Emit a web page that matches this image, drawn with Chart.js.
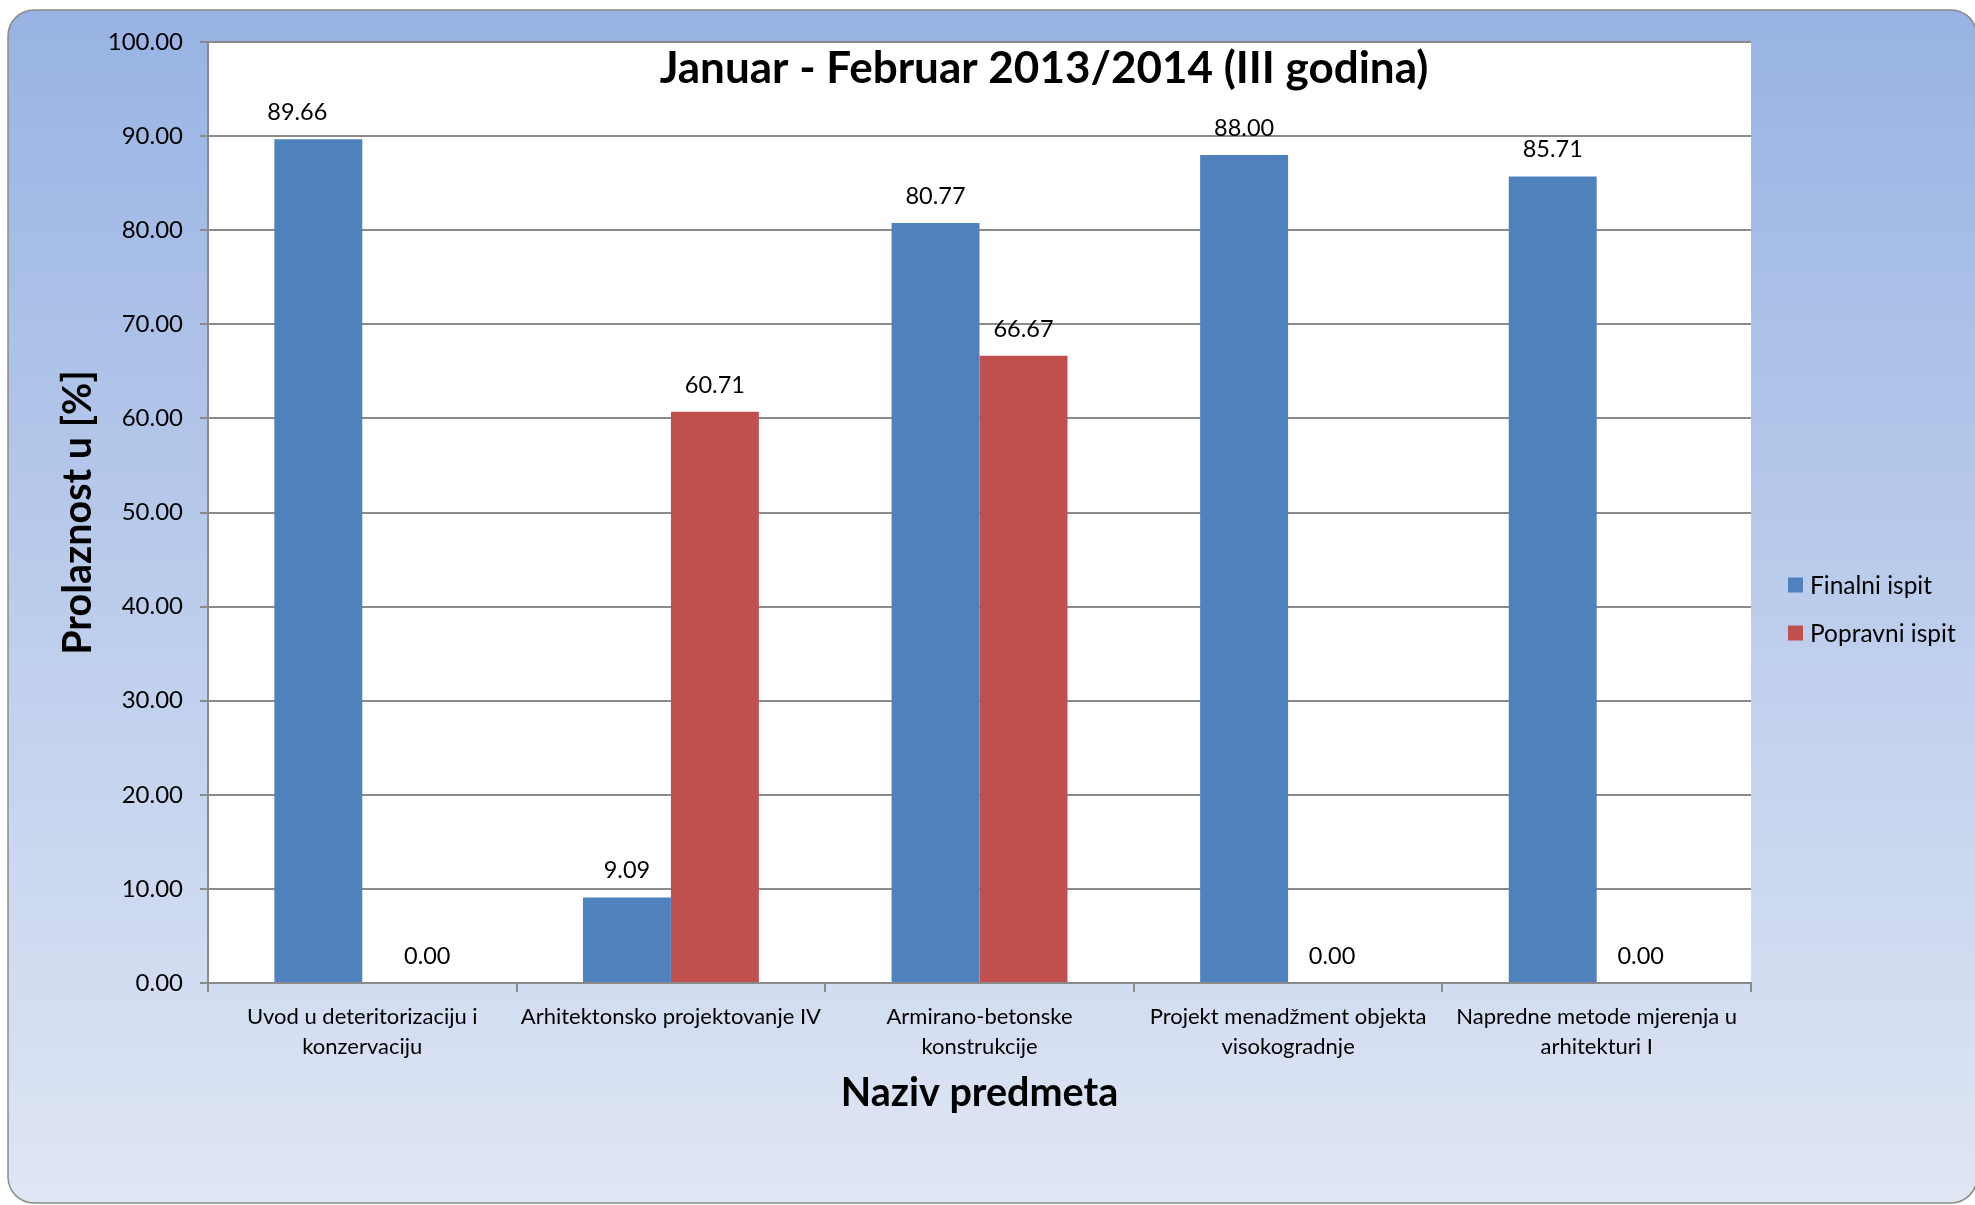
<!DOCTYPE html>
<html>
<head>
<meta charset="utf-8">
<script src="https://cdn.jsdelivr.net/npm/chart.js@4/dist/chart.umd.min.js"></script>
<style>
  html, body { margin: 0; padding: 0; background: #ffffff; }
  #wrap { width: 1975px; height: 1205px; }
</style>
</head>
<body>
<div id="wrap"><canvas id="c" width="1975" height="1205"></canvas></div>
<script>
// ---- data ----
const chartTitle = 'Januar - Februar 2013/2014 (III godina)';
const categories = [
  ['Uvod u deteritorizaciju i', 'konzervaciju'],
  'Arhitektonsko projektovanje IV',
  ['Armirano-betonske', 'konstrukcije'],
  ['Projekt menadžment objekta', 'visokogradnje'],
  ['Napredne metode mjerenja u', 'arhitekturi I']
];
const seriesNames = ['Finalni ispit', 'Popravni ispit'];
const finalniIspit = [89.66, 9.09, 80.77, 88.00, 85.71];
const popravniIspit = [0.00, 60.71, 66.67, 0.00, 0.00];
const yTitle = 'Prolaznost u [%]';
const xTitle = 'Naziv predmeta';

// ---- styles ----
const FONT = 'Lato, "Open Sans", sans-serif';
const BLUE = '#4F81BD';
const RED = '#C0504D';
const GRID = '#8a8a8a';
const labelShift = [[-21, 0, 0, 0, 0], [21, 0, 0, 0, 0]];

Chart.defaults.font.family = FONT;
Chart.defaults.color = '#000000';

const backgroundPlugin = {
  id: 'bgPlugin',
  beforeDraw(chart) {
    const ctx = chart.ctx;
    const W = chart.width, H = chart.height;
    ctx.save();
    const x0 = 8, y0 = 10, x1 = W + 2, y1 = H - 2, r = 26;
    const g = ctx.createLinearGradient(0, y0, 0, y1);
    g.addColorStop(0, '#98b3e3');
    g.addColorStop(0.5, '#bccdec');
    g.addColorStop(1, '#dfe6f4');
    ctx.beginPath();
    ctx.moveTo(x0 + r, y0);
    ctx.lineTo(x1 - r, y0);
    ctx.arcTo(x1, y0, x1, y0 + r, r);
    ctx.lineTo(x1, y1 - r);
    ctx.arcTo(x1, y1, x1 - r, y1, r);
    ctx.lineTo(x0 + r, y1);
    ctx.arcTo(x0, y1, x0, y1 - r, r);
    ctx.lineTo(x0, y0 + r);
    ctx.arcTo(x0, y0, x0 + r, y0, r);
    ctx.closePath();
    ctx.fillStyle = g;
    ctx.fill();
    ctx.lineWidth = 1.5;
    ctx.strokeStyle = '#8c8c8c';
    ctx.stroke();
    const a = chart.chartArea;
    ctx.fillStyle = '#ffffff';
    ctx.fillRect(a.left, a.top, a.right - a.left, a.bottom - a.top);
    ctx.restore();
  }
};

const overlayPlugin = {
  id: 'overlayPlugin',
  afterDatasetsDraw(chart) {
    const ctx = chart.ctx;
    ctx.save();
    // data labels
    ctx.font = '23.5px ' + FONT;
    ctx.fillStyle = '#000';
    ctx.textAlign = 'center';
    ctx.textBaseline = 'alphabetic';
    chart.data.datasets.forEach((ds, di) => {
      const meta = chart.getDatasetMeta(di);
      meta.data.forEach((el, i) => {
        const v = ds.data[i];
        ctx.fillText(v.toFixed(2), el.x + labelShift[di][i], el.y - 19);
      });
    });
    // title
    ctx.font = 'bold 44px ' + FONT;
    ctx.fillText(chartTitle, 1044, 83);
    // legend
    ctx.textAlign = 'left';
    ctx.textBaseline = 'middle';
    ctx.font = '24.5px ' + FONT;
    const ly = [585, 633];
    chart.data.datasets.forEach((ds, di) => {
      ctx.fillStyle = ds.backgroundColor;
      ctx.fillRect(1788, ly[di] - 7.5, 15, 15);
      ctx.fillStyle = '#000';
      ctx.fillText(ds.label, 1810, ly[di] + 1);
    });
    ctx.restore();
  }
};

new Chart(document.getElementById('c'), {
  type: 'bar',
  data: {
    labels: categories,
    datasets: [
      { label: seriesNames[0], data: finalniIspit, backgroundColor: BLUE, borderWidth: 0 },
      { label: seriesNames[1], data: popravniIspit, backgroundColor: RED, borderWidth: 0 }
    ]
  },
  options: {
    responsive: false,
    devicePixelRatio: 1,
    animation: false,
    layout: { padding: { left: 0, top: 42, right: 224, bottom: 72 } },
    datasets: { bar: { categoryPercentage: 0.57, barPercentage: 1.0 } },
    plugins: {
      legend: { display: false },
      title: { display: false },
      tooltip: { enabled: false }
    },
    scales: {
      x: {
        offset: true,
        afterFit(scale) { scale.height = 150; },
        grid: { offset: true, drawOnChartArea: false, drawTicks: true, tickLength: 9, color: GRID, lineWidth: 2 },
        border: { display: true, color: GRID, width: 2 },
        ticks: { font: { size: 22, lineHeight: 1.36 }, color: '#000', padding: 10, maxRotation: 0, autoSkip: false },
        title: { display: true, text: xTitle, font: { size: 39.5, weight: 'bold' }, color: '#000', padding: { top: 0, bottom: 16 } }
      },
      y: {
        min: 0, max: 100,
        afterFit(scale) { scale.width = 208; },
        grid: { drawTicks: true, tickLength: 8, color: GRID, lineWidth: 2 },
        border: { display: true, color: GRID, width: 2 },
        ticks: { stepSize: 10, font: { size: 24 }, color: '#000', padding: 17, callback: v => Number(v).toFixed(2) },
        title: { display: true, text: yTitle, font: { size: 39.5, weight: 'bold' }, color: '#000', padding: { top: 55, bottom: 0 } }
      }
    }
  },
  plugins: [backgroundPlugin, overlayPlugin]
});
</script>
</body>
</html>
